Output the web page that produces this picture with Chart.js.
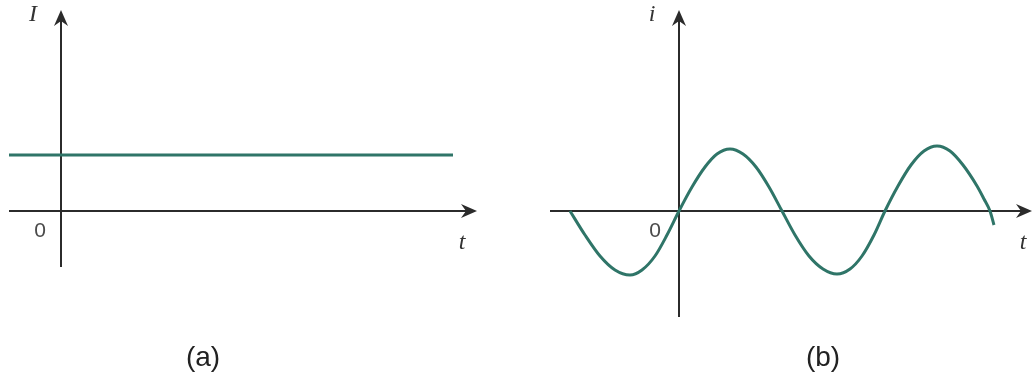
<!DOCTYPE html>
<html>
<head>
<meta charset="utf-8">
<script src="https://cdn.jsdelivr.net/npm/chart.js@4.4.1/dist/chart.umd.min.js"></script>
<style>
  html, body { margin: 0; padding: 0; background: #fff; overflow: hidden; }
  #wrap { position: relative; width: 1032px; height: 377px; }
  .panel { position: absolute; top: 0; width: 516px; height: 377px; }
</style>
</head>
<body>
<div id="wrap">
  <div class="panel" style="left:0"><canvas id="dcChart" width="516" height="377"></canvas></div>
  <div class="panel" style="left:516px"><canvas id="acChart" width="516" height="377"></canvas></div>
</div>
<script>
// (a) direct current: constant level
const dcTime = [-0.52, 3.92];
const dcCurrent = [0.56, 0.56];

// (b) alternating current
const acTime = [
  -1.09, -0.94, -0.79, -0.64, -0.49, -0.37, -0.24, -0.12,
  0, 0.13, 0.26, 0.38, 0.51, 0.64, 0.77, 0.90,
  1.03, 1.16, 1.30, 1.44, 1.58, 1.71, 1.83, 1.95,
  2.06, 2.19, 2.32, 2.45, 2.58, 2.71, 2.84, 2.98, 3.05,
  3.11, 3.15
];
const acCurrent = [
  0, -0.24, -0.45, -0.59, -0.64, -0.59, -0.45, -0.24,
  0, 0.24, 0.44, 0.57, 0.62, 0.57, 0.44, 0.24,
  0, -0.24, -0.45, -0.58, -0.63, -0.58, -0.45, -0.24,
  0, 0.25, 0.46, 0.60, 0.65, 0.60, 0.46, 0.25, 0.12,
  0, -0.14
];

// axis extents [start, end] in data units
const dcAxisT = [-0.52, 4.16];
const dcAxisI = [-0.56, 2.01];
const acAxisT = [-1.29, 3.53];
const acAxisI = [-1.06, 2.01];

const panelLabels = ["(a)", "(b)"];
const currentNames = ["I", "i"];
const timeName = "t";
const originName = "0";

const LINE_COLOR = "#2f7568";
const AXIS_COLOR = "#2b2b2b";

// draws a line with a stealth arrow head at (x2, y2)
function arrowLine(ctx, x1, y1, x2, y2) {
  const ang = Math.atan2(y2 - y1, x2 - x1);
  const len = 16, half = 7, notch = 5;
  const bx = x2 - Math.cos(ang) * (len - notch), by = y2 - Math.sin(ang) * (len - notch);
  ctx.beginPath();
  ctx.moveTo(x1, y1);
  ctx.lineTo(bx, by);
  ctx.stroke();
  const cx = x2 - Math.cos(ang) * len, cy = y2 - Math.sin(ang) * len;
  const px = -Math.sin(ang) * half, py = Math.cos(ang) * half;
  ctx.beginPath();
  ctx.moveTo(x2, y2);
  ctx.lineTo(cx + px, cy + py);
  ctx.lineTo(bx, by);
  ctx.lineTo(cx - px, cy - py);
  ctx.closePath();
  ctx.fill();
}

const axesPlugin = {
  id: "axesPlugin",
  beforeDatasetsDraw(chart, args, opts) {
    const { ctx, scales: { x, y } } = chart;
    ctx.save();
    ctx.strokeStyle = AXIS_COLOR;
    ctx.fillStyle = AXIS_COLOR;
    ctx.lineWidth = 2;
    const x0 = x.getPixelForValue(0), y0 = y.getPixelForValue(0);
    arrowLine(ctx, x.getPixelForValue(opts.axisT[0]), y0, x.getPixelForValue(opts.axisT[1]), y0);
    arrowLine(ctx, x0, y.getPixelForValue(opts.axisI[0]), x0, y.getPixelForValue(opts.axisI[1]));
    ctx.restore();
  },
  afterDraw(chart, args, opts) {
    const { ctx, scales: { x, y } } = chart;
    const x0 = x.getPixelForValue(0), y0 = y.getPixelForValue(0);
    ctx.save();
    ctx.textAlign = "center";
    ctx.textBaseline = "middle";
    ctx.fillStyle = "#333";
    ctx.font = "italic 24px 'Liberation Serif', 'DejaVu Serif', serif";
    ctx.fillText(opts.yName, x0 + opts.yNameDx, 15);
    ctx.fillText(timeName, x.getPixelForValue(opts.axisT[1]) + opts.tDx, y0 + 32);
    ctx.fillStyle = "#4a4a4a";
    ctx.font = "21px 'Liberation Sans', Arial, sans-serif";
    ctx.fillText(originName, x0 + opts.zeroDx, y0 + 20);
    ctx.fillStyle = "#222";
    ctx.font = "28px 'Liberation Sans', Arial, sans-serif";
    ctx.fillText(opts.panel, opts.panelX, 358);
    ctx.restore();
  }
};

function makeChart(id, tVals, iVals, xMin, xMax, pluginOpts) {
  const points = tVals.map((t, k) => ({ x: t, y: iVals[k] }));
  return new Chart(document.getElementById(id).getContext("2d"), {
    type: "scatter",
    data: {
      datasets: [{
        data: points,
        showLine: true,
        borderColor: LINE_COLOR,
        borderWidth: 3,
        pointRadius: 0,
        cubicInterpolationMode: "monotone",
        clip: false
      }]
    },
    options: {
      responsive: false,
      animation: false,
      events: [],
      layout: { padding: 0 },
      plugins: {
        legend: { display: false },
        tooltip: { enabled: false },
        axesPlugin: pluginOpts
      },
      scales: {
        x: { type: "linear", min: xMin, max: xMax, display: false },
        y: { type: "linear", min: -1.66, max: 2.11, display: false }
      }
    },
    plugins: [axesPlugin]
  });
}

makeChart("dcChart", dcTime, dcCurrent, -0.61, 4.55, {
  axisT: dcAxisT, axisI: dcAxisI, yName: currentNames[0], yNameDx: -28,
  tDx: -15, zeroDx: -21, panel: panelLabels[0], panelX: 203
});
makeChart("acChart", acTime, acCurrent, -1.63, 3.53, {
  axisT: acAxisT, axisI: acAxisI, yName: currentNames[1], yNameDx: -27,
  tDx: -9, zeroDx: -24, panel: panelLabels[1], panelX: 307
});
</script>
</body>
</html>
